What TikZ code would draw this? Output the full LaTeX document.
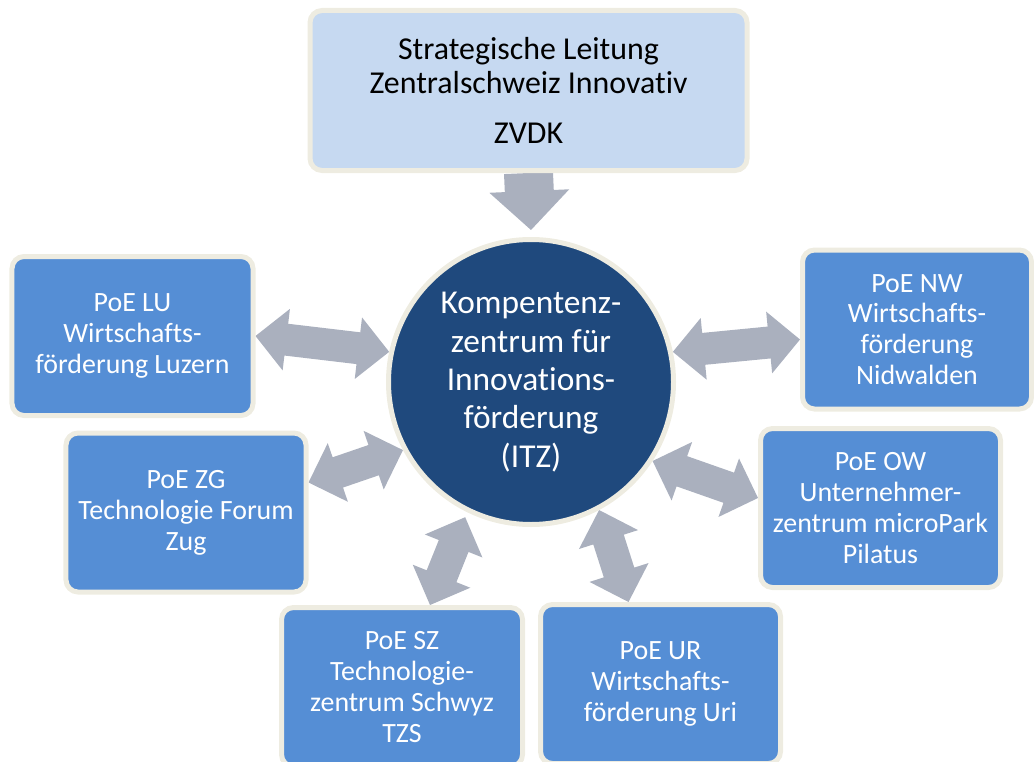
\documentclass[tikz,border=0pt]{standalone}
\usepackage{fontspec}
\setmainfont{Carlito}[Ligatures=NoCommon]
\usetikzlibrary{calc,backgrounds}

\definecolor{cream}{HTML}{EEECE1}
\definecolor{topblue}{HTML}{C6D9F1}
\definecolor{poeblue}{HTML}{558ED5}
\definecolor{hubblue}{HTML}{1F497D}
\definecolor{arrowgray}{HTML}{AAB0BE}

\begin{document}
\begin{tikzpicture}[x=1bp, y=-1bp,
    every node/.style={align=center, inner sep=0pt, draw=cream, line width=5bp},
    topbox/.style={fill=topblue, text=black, rounded corners=12bp, minimum width=437bp, minimum height=160bp, font=\fontsize{32}{34}\selectfont},
    poebox/.style={fill=poeblue, text=white, rounded corners=12bp, minimum height=159bp, font=\fontsize{28}{31}\selectfont},
    hub/.style={circle, fill=hubblue, text=white, minimum size=285bp, font=\fontsize{33.5}{38.5}\selectfont},
    % block arrow, one head
    flow/.style={fill=arrowgray, to path={
        let \p2=($(\tikztotarget)!39bp!(\tikztostart)$) in
        ($(\tikztostart)!24.5bp!90:(\tikztotarget)$) -- ($(\p2)!24.5bp!-90:(\tikztostart)$)
        -- ($(\p2)!40bp!-90:(\tikztostart)$) -- (\tikztotarget) -- ($(\p2)!40bp!90:(\tikztostart)$)
        -- ($(\p2)!24.5bp!90:(\tikztostart)$) -- ($(\tikztostart)!24.5bp!-90:(\tikztotarget)$) -- cycle}},
    % block arrow, two heads
    link/.style={fill=arrowgray, to path={
        let \p1=($(\tikztostart)!31bp!(\tikztotarget)$), \p2=($(\tikztotarget)!31bp!(\tikztostart)$) in
        (\tikztostart) -- ($(\p1)!31bp!90:(\tikztotarget)$) -- ($(\p1)!16bp!90:(\tikztotarget)$)
        -- ($(\p2)!16bp!-90:(\tikztostart)$) -- ($(\p2)!31bp!-90:(\tikztostart)$) -- (\tikztotarget)
        -- ($(\p2)!31bp!90:(\tikztostart)$) -- ($(\p2)!16bp!90:(\tikztostart)$)
        -- ($(\p1)!16bp!-90:(\tikztotarget)$) -- ($(\p1)!31bp!-90:(\tikztotarget)$) -- cycle}}]
            \useasboundingbox (0,0) rectangle (1034,762);
            \clip (0,0) rectangle (1034,762);

            \node[topbox] (strat) at (528.5,90.5) {Strategische Leitung\\Zentralschweiz Innovativ\\[16bp]ZVDK};
            \node[hub] (itz) at (531,382) {Kompentenz-\\zentrum für\\Innovations-\\förderung\\(ITZ)};

            \foreach \name/\x/\y/\w/\txt in {
                lu/132.5/336/241/{PoE LU\\Wirtschafts-\\förderung Luzern},
                zg/186/512.5/240/{PoE ZG\\Technologie Forum\\Zug},
                sz/402/687/241/{PoE SZ\\Technologie-\\zentrum Schwyz\\TZS},
                ur/660.5/684/240/{PoE UR\\Wirtschafts-\\förderung Uri},
                ow/880.5/508/240/{PoE OW\\Unternehmer-\\zentrum microPark\\Pilatus},
                nw/917/329.5/229/{PoE NW\\Wirtschafts-\\förderung\\Nidwalden}} {
                \node[poebox, minimum width=\w bp] (\name) at (\x,\y) {\txt};
            }

            \begin{scope}[on background layer]
                \fill[flow] (strat.south) to ([yshift=7bp]itz.north);
                \fill[link] (lu.east) to (itz.168);
                \fill[link] ([yshift=30bp]zg.east) to (itz.208);
                \fill[link] ([xshift=28bp]sz.north) to ([yshift=-6bp]itz.243);
                \fill[link] ([xshift=-32bp]ur.north) to (itz.298);
                \fill[link] ([yshift=10bp]ow.west) to (itz.327);
                \fill[link] ([yshift=-10bp]nw.west) to (itz.12);
            \end{scope}

        \end{tikzpicture}
\end{document}
